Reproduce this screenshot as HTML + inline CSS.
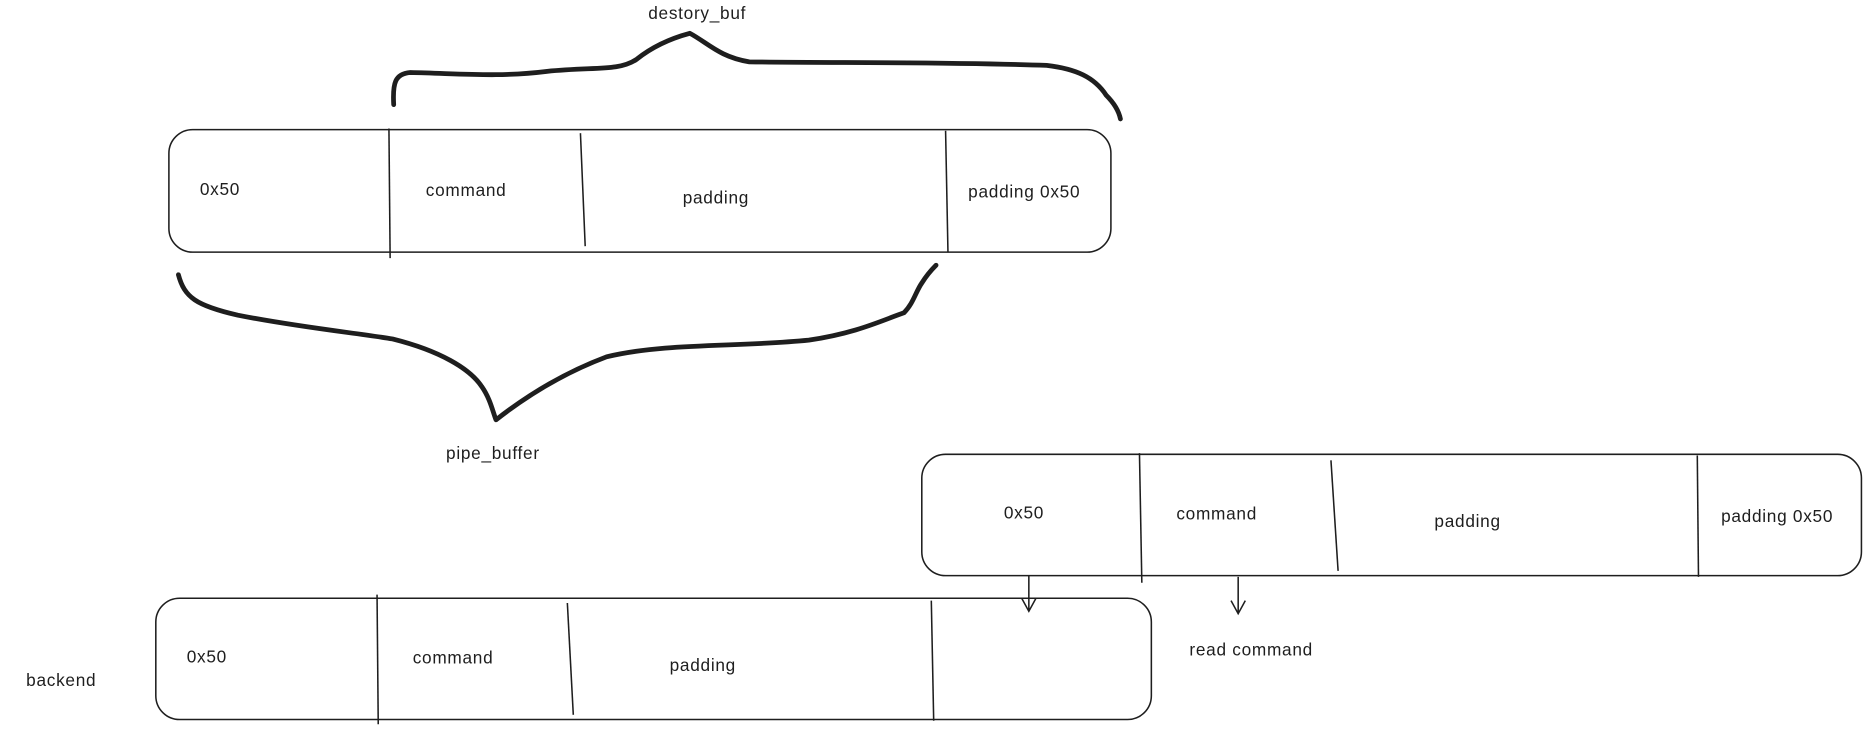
<!DOCTYPE html>
<html><head><meta charset="utf-8"><style>
html,body{margin:0;padding:0;background:#fff;}
svg{display:block;}
text{font-family:"Liberation Sans",sans-serif;font-size:14.5px;letter-spacing:0.6px;fill:#1e1e1e;}
</style></head><body>
<svg width="1865" height="735" viewBox="0 0 1568 618" preserveAspectRatio="none" xmlns="http://www.w3.org/2000/svg">
<g fill="none" stroke="#1e1e1e" stroke-width="1.3">
<rect x="142" y="109" width="792" height="103" rx="20"/>
<line x1="327" y1="108" x2="328" y2="217"/><line x1="488" y1="112" x2="492" y2="207"/><line x1="795" y1="110" x2="797" y2="212"/>
<rect x="775" y="382" width="790" height="102" rx="20"/>
<line x1="958" y1="381" x2="960" y2="490"/><line x1="1119" y1="387" x2="1125" y2="480"/><line x1="1427" y1="383" x2="1428" y2="485"/>
<rect x="131" y="503" width="837" height="102" rx="20"/>
<line x1="317" y1="500" x2="318" y2="609"/><line x1="477" y1="507" x2="482" y2="601"/><line x1="783" y1="505" x2="785" y2="606"/>
<path d="M865 484 L865 513 M859 503 L865 514 L871 503"/>
<path d="M1041 485 L1041 516 M1035 505 L1041 516 L1047 505"/>
</g>
<g fill="none" stroke="#1e1e1e" stroke-width="4" stroke-linecap="round" stroke-linejoin="round">
<path d="M331 88 C330 70 332 62 345 61 C390 62 420 65 460 60 C500 56 520 60 535 50 C550 38 565 32 580 28 C595 36 605 48 630 52 C700 53 800 52 880 55 C905 58 920 65 930 80 C938 88 941 95 942 100"/>
<path d="M150 231 C155 250 165 257 200 265 C250 275 300 280 330 285 C370 295 395 310 405 325 C412 335 414 345 417 353 C440 335 470 315 510 300 C560 288 620 292 680 286 C720 280 740 270 760 263 C768 255 770 245 775 238 C780 230 784 226 787 223"/>
</g>
<text x="545" y="16">destory_buf</text>
<text x="375" y="386">pipe_buffer</text>
<text x="168" y="164">0x50</text><text x="358" y="165">command</text><text x="574" y="171">padding</text><text x="814" y="166">padding 0x50</text>
<text x="844" y="436">0x50</text><text x="989" y="437">command</text><text x="1206" y="443">padding</text><text x="1447" y="439">padding 0x50</text>
<text x="157" y="557">0x50</text><text x="347" y="558">command</text><text x="563" y="564">padding</text>
<text x="22" y="577">backend</text>
<text x="1000" y="551">read command</text>
</svg>
</body></html>
